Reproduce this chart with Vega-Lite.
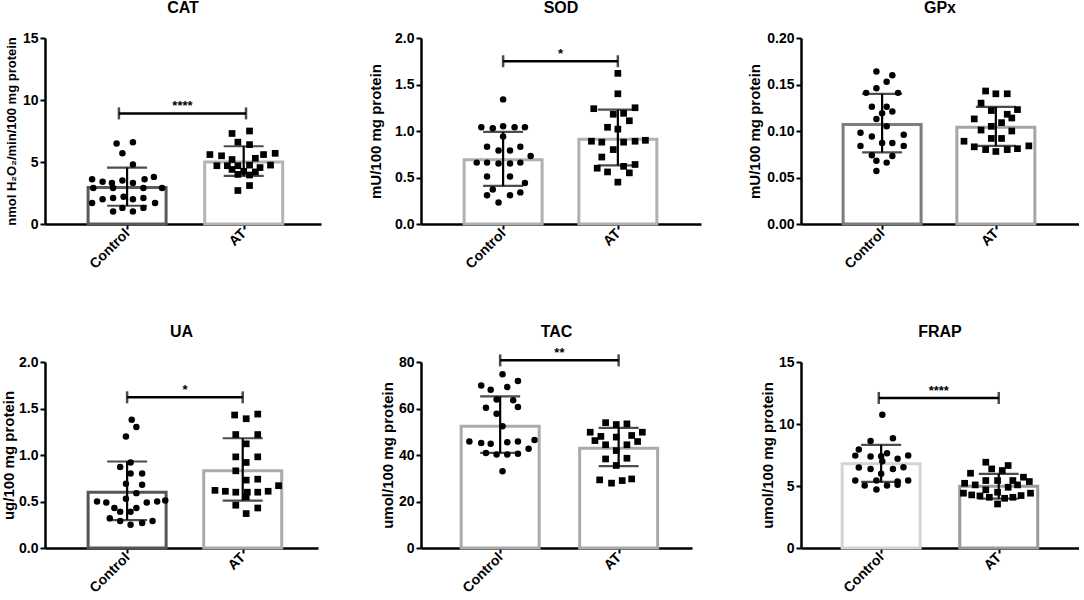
{
"$schema":"https://vega.github.io/schema/vega-lite/v6.json",
"padding":{"left":1,"top":0,"right":0,"bottom":0},
"datasets":{"d":[
{"k":"bar","p":"CAT","g":"Control","x":1,"m":2.95,"lo":1.47,"hi":4.55},
{"k":"bar","p":"CAT","g":"AT","x":2,"m":5.01,"lo":3.88,"hi":6.27},
{"k":"bar","p":"SOD","g":"Control","x":1,"m":0.69,"lo":0.41,"hi":0.99},
{"k":"bar","p":"SOD","g":"AT","x":2,"m":0.91,"lo":0.63,"hi":1.23},
{"k":"bar","p":"GPx","g":"Control","x":1,"m":0.107,"lo":0.077,"hi":0.140},
{"k":"bar","p":"GPx","g":"AT","x":2,"m":0.104,"lo":0.084,"hi":0.126},
{"k":"bar","p":"UA","g":"Control","x":1,"m":0.60,"lo":0.30,"hi":0.93},
{"k":"bar","p":"UA","g":"AT","x":2,"m":0.83,"lo":0.51,"hi":1.18},
{"k":"bar","p":"TAC","g":"Control","x":1,"m":52.4,"lo":40.9,"hi":65.2},
{"k":"bar","p":"TAC","g":"AT","x":2,"m":42.9,"lo":35.2,"hi":51.7},
{"k":"bar","p":"FRAP","g":"Control","x":1,"m":6.79,"lo":5.33,"hi":8.32},
{"k":"bar","p":"FRAP","g":"AT","x":2,"m":4.98,"lo":3.98,"hi":5.98},
{"k":"sig","p":"CAT","x":0.93,"x2":2.02,"xm":1.475,"y":8.92,"s":"****"},
{"k":"sig","p":"SOD","x":1,"x2":2,"xm":1.5,"y":1.75,"s":"*"},
{"k":"sig","p":"UA","x":1,"x2":2,"xm":1.5,"y":1.62,"s":"*"},
{"k":"sig","p":"TAC","x":1,"x2":2,"xm":1.5,"y":80.7,"s":"**"},
{"k":"sig","p":"FRAP","x":0.98,"x2":2,"xm":1.49,"y":12.1,"s":"****"},
{"k":"pt","p":"CAT","g":"Control","x":0.91,"v":6.5},{"k":"pt","p":"CAT","g":"Control","x":1.05,"v":6.6},{"k":"pt","p":"CAT","g":"Control","x":0.96,"v":5.7},{"k":"pt","p":"CAT","g":"Control","x":1.05,"v":4.8},
{"k":"pt","p":"CAT","g":"Control","x":0.70,"v":3.6},{"k":"pt","p":"CAT","g":"Control","x":0.79,"v":3.4},{"k":"pt","p":"CAT","g":"Control","x":0.87,"v":3.3},{"k":"pt","p":"CAT","g":"Control","x":0.96,"v":3.5},{"k":"pt","p":"CAT","g":"Control","x":1.05,"v":3.3},{"k":"pt","p":"CAT","g":"Control","x":1.15,"v":3.6},{"k":"pt","p":"CAT","g":"Control","x":1.23,"v":3.8},
{"k":"pt","p":"CAT","g":"Control","x":0.71,"v":2.9},{"k":"pt","p":"CAT","g":"Control","x":0.88,"v":2.9},{"k":"pt","p":"CAT","g":"Control","x":1.14,"v":2.9},{"k":"pt","p":"CAT","g":"Control","x":1.30,"v":2.9},
{"k":"pt","p":"CAT","g":"Control","x":0.79,"v":2.0},{"k":"pt","p":"CAT","g":"Control","x":0.88,"v":2.1},{"k":"pt","p":"CAT","g":"Control","x":1.05,"v":2.0},{"k":"pt","p":"CAT","g":"Control","x":1.14,"v":2.1},{"k":"pt","p":"CAT","g":"Control","x":0.97,"v":2.2},
{"k":"pt","p":"CAT","g":"Control","x":0.70,"v":1.7},{"k":"pt","p":"CAT","g":"Control","x":1.24,"v":1.7},{"k":"pt","p":"CAT","g":"Control","x":0.96,"v":1.3},{"k":"pt","p":"CAT","g":"Control","x":1.14,"v":1.3},{"k":"pt","p":"CAT","g":"Control","x":0.88,"v":1.0},{"k":"pt","p":"CAT","g":"Control","x":1.05,"v":1.0},
{"k":"pt","p":"CAT","g":"AT","x":2.05,"v":7.5},{"k":"pt","p":"CAT","g":"AT","x":1.90,"v":7.3},{"k":"pt","p":"CAT","g":"AT","x":1.95,"v":6.6},{"k":"pt","p":"CAT","g":"AT","x":2.05,"v":6.4},{"k":"pt","p":"CAT","g":"AT","x":1.71,"v":5.6},{"k":"pt","p":"CAT","g":"AT","x":1.81,"v":5.5},{"k":"pt","p":"CAT","g":"AT","x":2.17,"v":5.6},{"k":"pt","p":"CAT","g":"AT","x":2.27,"v":5.7},{"k":"pt","p":"CAT","g":"AT","x":1.90,"v":5.2},{"k":"pt","p":"CAT","g":"AT","x":2.10,"v":5.3},{"k":"pt","p":"CAT","g":"AT","x":1.77,"v":4.7},{"k":"pt","p":"CAT","g":"AT","x":1.86,"v":4.7},{"k":"pt","p":"CAT","g":"AT","x":1.95,"v":4.7},{"k":"pt","p":"CAT","g":"AT","x":2.05,"v":4.75},{"k":"pt","p":"CAT","g":"AT","x":2.14,"v":4.55},{"k":"pt","p":"CAT","g":"AT","x":2.23,"v":4.75},{"k":"pt","p":"CAT","g":"AT","x":1.90,"v":4.4},{"k":"pt","p":"CAT","g":"AT","x":2.00,"v":4.25},{"k":"pt","p":"CAT","g":"AT","x":2.10,"v":4.2},{"k":"pt","p":"CAT","g":"AT","x":1.95,"v":4.0},{"k":"pt","p":"CAT","g":"AT","x":2.05,"v":3.95},{"k":"pt","p":"CAT","g":"AT","x":2.05,"v":3.1},{"k":"pt","p":"CAT","g":"AT","x":1.95,"v":2.7},
{"k":"pt","p":"SOD","g":"Control","x":1.00,"v":1.34},{"k":"pt","p":"SOD","g":"Control","x":0.81,"v":1.04},{"k":"pt","p":"SOD","g":"Control","x":0.91,"v":1.03},{"k":"pt","p":"SOD","g":"Control","x":1.00,"v":1.05},{"k":"pt","p":"SOD","g":"Control","x":1.10,"v":1.04},{"k":"pt","p":"SOD","g":"Control","x":1.19,"v":1.04},{"k":"pt","p":"SOD","g":"Control","x":1.00,"v":0.94},{"k":"pt","p":"SOD","g":"Control","x":0.86,"v":0.83},{"k":"pt","p":"SOD","g":"Control","x":0.96,"v":0.79},{"k":"pt","p":"SOD","g":"Control","x":1.06,"v":0.79},{"k":"pt","p":"SOD","g":"Control","x":1.15,"v":0.83},{"k":"pt","p":"SOD","g":"Control","x":1.24,"v":0.73},{"k":"pt","p":"SOD","g":"Control","x":0.77,"v":0.66},{"k":"pt","p":"SOD","g":"Control","x":0.86,"v":0.66},{"k":"pt","p":"SOD","g":"Control","x":0.96,"v":0.65},{"k":"pt","p":"SOD","g":"Control","x":1.06,"v":0.65},{"k":"pt","p":"SOD","g":"Control","x":1.15,"v":0.66},{"k":"pt","p":"SOD","g":"Control","x":0.86,"v":0.51},{"k":"pt","p":"SOD","g":"Control","x":1.06,"v":0.51},{"k":"pt","p":"SOD","g":"Control","x":1.19,"v":0.44},{"k":"pt","p":"SOD","g":"Control","x":0.91,"v":0.37},{"k":"pt","p":"SOD","g":"Control","x":1.15,"v":0.34},{"k":"pt","p":"SOD","g":"Control","x":0.86,"v":0.31},{"k":"pt","p":"SOD","g":"Control","x":1.06,"v":0.31},{"k":"pt","p":"SOD","g":"Control","x":0.96,"v":0.23},
{"k":"pt","p":"SOD","g":"AT","x":2.00,"v":1.62},{"k":"pt","p":"SOD","g":"AT","x":2.00,"v":1.40},{"k":"pt","p":"SOD","g":"AT","x":1.79,"v":1.24},{"k":"pt","p":"SOD","g":"AT","x":2.15,"v":1.25},{"k":"pt","p":"SOD","g":"AT","x":1.96,"v":1.18},{"k":"pt","p":"SOD","g":"AT","x":2.05,"v":1.19},{"k":"pt","p":"SOD","g":"AT","x":2.10,"v":1.11},{"k":"pt","p":"SOD","g":"AT","x":1.91,"v":1.04},{"k":"pt","p":"SOD","g":"AT","x":2.00,"v":1.02},{"k":"pt","p":"SOD","g":"AT","x":1.77,"v":0.89},{"k":"pt","p":"SOD","g":"AT","x":1.86,"v":0.88},{"k":"pt","p":"SOD","g":"AT","x":2.05,"v":0.88},{"k":"pt","p":"SOD","g":"AT","x":2.15,"v":0.89},{"k":"pt","p":"SOD","g":"AT","x":2.24,"v":0.90},{"k":"pt","p":"SOD","g":"AT","x":1.96,"v":0.80},{"k":"pt","p":"SOD","g":"AT","x":1.86,"v":0.72},{"k":"pt","p":"SOD","g":"AT","x":2.15,"v":0.64},{"k":"pt","p":"SOD","g":"AT","x":1.91,"v":0.56},{"k":"pt","p":"SOD","g":"AT","x":2.10,"v":0.55},{"k":"pt","p":"SOD","g":"AT","x":2.00,"v":0.45},{"k":"pt","p":"SOD","g":"AT","x":1.82,"v":0.60},{"k":"pt","p":"SOD","g":"AT","x":2.05,"v":0.62},
{"k":"pt","p":"GPx","g":"Control","x":0.95,"v":0.164},{"k":"pt","p":"GPx","g":"Control","x":1.09,"v":0.160},{"k":"pt","p":"GPx","g":"Control","x":1.04,"v":0.153},{"k":"pt","p":"GPx","g":"Control","x":0.95,"v":0.146},{"k":"pt","p":"GPx","g":"Control","x":0.86,"v":0.141},{"k":"pt","p":"GPx","g":"Control","x":1.14,"v":0.141},{"k":"pt","p":"GPx","g":"Control","x":0.91,"v":0.126},{"k":"pt","p":"GPx","g":"Control","x":1.04,"v":0.126},{"k":"pt","p":"GPx","g":"Control","x":1.00,"v":0.119},{"k":"pt","p":"GPx","g":"Control","x":1.09,"v":0.121},{"k":"pt","p":"GPx","g":"Control","x":0.95,"v":0.113},{"k":"pt","p":"GPx","g":"Control","x":1.04,"v":0.105},{"k":"pt","p":"GPx","g":"Control","x":0.81,"v":0.098},{"k":"pt","p":"GPx","g":"Control","x":0.91,"v":0.094},{"k":"pt","p":"GPx","g":"Control","x":1.19,"v":0.096},{"k":"pt","p":"GPx","g":"Control","x":1.00,"v":0.087},{"k":"pt","p":"GPx","g":"Control","x":1.09,"v":0.087},{"k":"pt","p":"GPx","g":"Control","x":0.81,"v":0.084},{"k":"pt","p":"GPx","g":"Control","x":1.19,"v":0.084},{"k":"pt","p":"GPx","g":"Control","x":0.91,"v":0.074},{"k":"pt","p":"GPx","g":"Control","x":1.09,"v":0.073},{"k":"pt","p":"GPx","g":"Control","x":0.95,"v":0.068},{"k":"pt","p":"GPx","g":"Control","x":1.04,"v":0.066},{"k":"pt","p":"GPx","g":"Control","x":0.95,"v":0.057},
{"k":"pt","p":"GPx","g":"AT","x":1.91,"v":0.143},{"k":"pt","p":"GPx","g":"AT","x":2.00,"v":0.140},{"k":"pt","p":"GPx","g":"AT","x":2.10,"v":0.140},{"k":"pt","p":"GPx","g":"AT","x":1.87,"v":0.130},{"k":"pt","p":"GPx","g":"AT","x":1.96,"v":0.122},{"k":"pt","p":"GPx","g":"AT","x":2.19,"v":0.123},{"k":"pt","p":"GPx","g":"AT","x":2.10,"v":0.118},{"k":"pt","p":"GPx","g":"AT","x":2.14,"v":0.114},{"k":"pt","p":"GPx","g":"AT","x":1.81,"v":0.113},{"k":"pt","p":"GPx","g":"AT","x":2.05,"v":0.109},{"k":"pt","p":"GPx","g":"AT","x":1.96,"v":0.105},{"k":"pt","p":"GPx","g":"AT","x":1.87,"v":0.101},{"k":"pt","p":"GPx","g":"AT","x":2.14,"v":0.100},{"k":"pt","p":"GPx","g":"AT","x":1.96,"v":0.092},{"k":"pt","p":"GPx","g":"AT","x":2.05,"v":0.092},{"k":"pt","p":"GPx","g":"AT","x":1.72,"v":0.089},{"k":"pt","p":"GPx","g":"AT","x":1.81,"v":0.083},{"k":"pt","p":"GPx","g":"AT","x":2.29,"v":0.084},{"k":"pt","p":"GPx","g":"AT","x":1.91,"v":0.080},{"k":"pt","p":"GPx","g":"AT","x":2.00,"v":0.078},{"k":"pt","p":"GPx","g":"AT","x":2.10,"v":0.080},{"k":"pt","p":"GPx","g":"AT","x":2.19,"v":0.081},
{"k":"pt","p":"UA","g":"Control","x":1.04,"v":1.38},{"k":"pt","p":"UA","g":"Control","x":1.08,"v":1.30},{"k":"pt","p":"UA","g":"Control","x":0.99,"v":1.20},{"k":"pt","p":"UA","g":"Control","x":1.03,"v":0.92},{"k":"pt","p":"UA","g":"Control","x":0.94,"v":0.87},{"k":"pt","p":"UA","g":"Control","x":1.03,"v":0.80},{"k":"pt","p":"UA","g":"Control","x":1.13,"v":0.80},{"k":"pt","p":"UA","g":"Control","x":0.99,"v":0.69},{"k":"pt","p":"UA","g":"Control","x":1.13,"v":0.68},{"k":"pt","p":"UA","g":"Control","x":1.08,"v":0.59},{"k":"pt","p":"UA","g":"Control","x":0.99,"v":0.53},{"k":"pt","p":"UA","g":"Control","x":0.74,"v":0.50},{"k":"pt","p":"UA","g":"Control","x":0.82,"v":0.49},{"k":"pt","p":"UA","g":"Control","x":1.17,"v":0.49},{"k":"pt","p":"UA","g":"Control","x":1.26,"v":0.50},{"k":"pt","p":"UA","g":"Control","x":1.33,"v":0.51},{"k":"pt","p":"UA","g":"Control","x":0.89,"v":0.43},{"k":"pt","p":"UA","g":"Control","x":1.08,"v":0.43},{"k":"pt","p":"UA","g":"Control","x":0.94,"v":0.39},{"k":"pt","p":"UA","g":"Control","x":1.03,"v":0.39},{"k":"pt","p":"UA","g":"Control","x":0.85,"v":0.32},{"k":"pt","p":"UA","g":"Control","x":1.22,"v":0.29},{"k":"pt","p":"UA","g":"Control","x":0.94,"v":0.29},{"k":"pt","p":"UA","g":"Control","x":1.03,"v":0.25},{"k":"pt","p":"UA","g":"Control","x":1.13,"v":0.27},
{"k":"pt","p":"UA","g":"AT","x":1.93,"v":1.43},{"k":"pt","p":"UA","g":"AT","x":2.03,"v":1.39},{"k":"pt","p":"UA","g":"AT","x":2.13,"v":1.44},{"k":"pt","p":"UA","g":"AT","x":1.94,"v":1.22},{"k":"pt","p":"UA","g":"AT","x":2.13,"v":1.22},{"k":"pt","p":"UA","g":"AT","x":2.03,"v":1.12},{"k":"pt","p":"UA","g":"AT","x":1.94,"v":0.98},{"k":"pt","p":"UA","g":"AT","x":2.13,"v":0.98},{"k":"pt","p":"UA","g":"AT","x":2.03,"v":0.92},{"k":"pt","p":"UA","g":"AT","x":1.94,"v":0.83},{"k":"pt","p":"UA","g":"AT","x":2.03,"v":0.73},{"k":"pt","p":"UA","g":"AT","x":2.13,"v":0.74},{"k":"pt","p":"UA","g":"AT","x":1.76,"v":0.62},{"k":"pt","p":"UA","g":"AT","x":1.85,"v":0.61},{"k":"pt","p":"UA","g":"AT","x":1.94,"v":0.60},{"k":"pt","p":"UA","g":"AT","x":2.04,"v":0.60},{"k":"pt","p":"UA","g":"AT","x":2.13,"v":0.60},{"k":"pt","p":"UA","g":"AT","x":2.22,"v":0.61},{"k":"pt","p":"UA","g":"AT","x":2.31,"v":0.67},{"k":"pt","p":"UA","g":"AT","x":2.03,"v":0.55},{"k":"pt","p":"UA","g":"AT","x":1.94,"v":0.46},{"k":"pt","p":"UA","g":"AT","x":2.13,"v":0.43},{"k":"pt","p":"UA","g":"AT","x":2.03,"v":0.37},
{"k":"pt","p":"TAC","g":"Control","x":1.02,"v":74.7},{"k":"pt","p":"TAC","g":"Control","x":1.15,"v":71.8},{"k":"pt","p":"TAC","g":"Control","x":0.84,"v":69.9},{"k":"pt","p":"TAC","g":"Control","x":1.06,"v":69.2},{"k":"pt","p":"TAC","g":"Control","x":0.92,"v":68.1},{"k":"pt","p":"TAC","g":"Control","x":0.97,"v":63.9},{"k":"pt","p":"TAC","g":"Control","x":1.11,"v":63.5},{"k":"pt","p":"TAC","g":"Control","x":0.88,"v":60.3},{"k":"pt","p":"TAC","g":"Control","x":1.15,"v":60.6},{"k":"pt","p":"TAC","g":"Control","x":0.97,"v":57.7},{"k":"pt","p":"TAC","g":"Control","x":1.02,"v":52.4},{"k":"pt","p":"TAC","g":"Control","x":0.74,"v":45.8},{"k":"pt","p":"TAC","g":"Control","x":0.84,"v":45.2},{"k":"pt","p":"TAC","g":"Control","x":0.92,"v":44.8},{"k":"pt","p":"TAC","g":"Control","x":1.06,"v":45.5},{"k":"pt","p":"TAC","g":"Control","x":1.15,"v":45.8},{"k":"pt","p":"TAC","g":"Control","x":1.29,"v":46.5},{"k":"pt","p":"TAC","g":"Control","x":1.24,"v":42.7},{"k":"pt","p":"TAC","g":"Control","x":0.88,"v":40.9},{"k":"pt","p":"TAC","g":"Control","x":0.97,"v":40.2},{"k":"pt","p":"TAC","g":"Control","x":1.06,"v":40.2},{"k":"pt","p":"TAC","g":"Control","x":1.15,"v":40.5},{"k":"pt","p":"TAC","g":"Control","x":1.02,"v":33.0},
{"k":"pt","p":"TAC","g":"AT","x":1.89,"v":53.9},{"k":"pt","p":"TAC","g":"AT","x":1.98,"v":53.1},{"k":"pt","p":"TAC","g":"AT","x":2.07,"v":53.4},{"k":"pt","p":"TAC","g":"AT","x":1.76,"v":49.8},{"k":"pt","p":"TAC","g":"AT","x":1.85,"v":48.0},{"k":"pt","p":"TAC","g":"AT","x":1.98,"v":47.7},{"k":"pt","p":"TAC","g":"AT","x":2.11,"v":48.4},{"k":"pt","p":"TAC","g":"AT","x":2.20,"v":49.8},{"k":"pt","p":"TAC","g":"AT","x":1.80,"v":46.2},{"k":"pt","p":"TAC","g":"AT","x":1.89,"v":44.4},{"k":"pt","p":"TAC","g":"AT","x":2.07,"v":44.4},{"k":"pt","p":"TAC","g":"AT","x":2.16,"v":45.8},{"k":"pt","p":"TAC","g":"AT","x":1.98,"v":41.9},{"k":"pt","p":"TAC","g":"AT","x":1.89,"v":38.3},{"k":"pt","p":"TAC","g":"AT","x":2.07,"v":38.6},{"k":"pt","p":"TAC","g":"AT","x":1.98,"v":35.5},{"k":"pt","p":"TAC","g":"AT","x":1.84,"v":29.3},{"k":"pt","p":"TAC","g":"AT","x":1.94,"v":27.9},{"k":"pt","p":"TAC","g":"AT","x":2.03,"v":29.0},{"k":"pt","p":"TAC","g":"AT","x":2.11,"v":29.7},
{"k":"pt","p":"FRAP","g":"Control","x":1.01,"v":10.75},{"k":"pt","p":"FRAP","g":"Control","x":0.91,"v":8.62},{"k":"pt","p":"FRAP","g":"Control","x":1.10,"v":8.86},{"k":"pt","p":"FRAP","g":"Control","x":0.81,"v":7.95},{"k":"pt","p":"FRAP","g":"Control","x":1.05,"v":7.65},{"k":"pt","p":"FRAP","g":"Control","x":0.91,"v":7.38},{"k":"pt","p":"FRAP","g":"Control","x":1.00,"v":7.40},{"k":"pt","p":"FRAP","g":"Control","x":1.14,"v":7.19},{"k":"pt","p":"FRAP","g":"Control","x":1.23,"v":7.46},{"k":"pt","p":"FRAP","g":"Control","x":0.78,"v":7.45},{"k":"pt","p":"FRAP","g":"Control","x":1.01,"v":7.0},{"k":"pt","p":"FRAP","g":"Control","x":0.91,"v":6.38},{"k":"pt","p":"FRAP","g":"Control","x":1.10,"v":6.38},{"k":"pt","p":"FRAP","g":"Control","x":0.81,"v":6.50},{"k":"pt","p":"FRAP","g":"Control","x":1.19,"v":6.52},{"k":"pt","p":"FRAP","g":"Control","x":1.00,"v":5.98},{"k":"pt","p":"FRAP","g":"Control","x":0.78,"v":5.44},{"k":"pt","p":"FRAP","g":"Control","x":0.96,"v":5.44},{"k":"pt","p":"FRAP","g":"Control","x":1.14,"v":5.36},{"k":"pt","p":"FRAP","g":"Control","x":1.23,"v":5.44},{"k":"pt","p":"FRAP","g":"Control","x":0.86,"v":5.04},{"k":"pt","p":"FRAP","g":"Control","x":1.05,"v":5.04},{"k":"pt","p":"FRAP","g":"Control","x":0.96,"v":4.71},{"k":"pt","p":"FRAP","g":"Control","x":1.14,"v":5.1},
{"k":"pt","p":"FRAP","g":"AT","x":1.89,"v":6.92},{"k":"pt","p":"FRAP","g":"AT","x":2.08,"v":6.65},{"k":"pt","p":"FRAP","g":"AT","x":1.94,"v":6.38},{"k":"pt","p":"FRAP","g":"AT","x":2.03,"v":6.25},{"k":"pt","p":"FRAP","g":"AT","x":1.76,"v":6.03},{"k":"pt","p":"FRAP","g":"AT","x":1.71,"v":5.22},{"k":"pt","p":"FRAP","g":"AT","x":1.80,"v":5.09},{"k":"pt","p":"FRAP","g":"AT","x":1.89,"v":5.44},{"k":"pt","p":"FRAP","g":"AT","x":1.99,"v":5.44},{"k":"pt","p":"FRAP","g":"AT","x":2.12,"v":5.44},{"k":"pt","p":"FRAP","g":"AT","x":2.21,"v":5.71},{"k":"pt","p":"FRAP","g":"AT","x":2.26,"v":5.36},{"k":"pt","p":"FRAP","g":"AT","x":2.08,"v":4.9},{"k":"pt","p":"FRAP","g":"AT","x":2.16,"v":5.09},{"k":"pt","p":"FRAP","g":"AT","x":1.89,"v":4.69},{"k":"pt","p":"FRAP","g":"AT","x":1.99,"v":4.5},{"k":"pt","p":"FRAP","g":"AT","x":1.70,"v":4.42},{"k":"pt","p":"FRAP","g":"AT","x":1.77,"v":4.28},{"k":"pt","p":"FRAP","g":"AT","x":1.84,"v":4.2},{"k":"pt","p":"FRAP","g":"AT","x":1.92,"v":4.09},{"k":"pt","p":"FRAP","g":"AT","x":2.05,"v":4.01},{"k":"pt","p":"FRAP","g":"AT","x":2.12,"v":4.09},{"k":"pt","p":"FRAP","g":"AT","x":2.19,"v":4.23},{"k":"pt","p":"FRAP","g":"AT","x":2.27,"v":4.42},{"k":"pt","p":"FRAP","g":"AT","x":1.99,"v":3.55}
]},
"columns":3,
"align":"none",
"bounds":"flush",
"spacing":{"row":138,"column":100},
"concat":[
{"width":276,"height":186,"title":"CAT","data":{"name":"d"},"transform":[{"filter":"datum.p==='CAT'"}],"layer":[
{"transform":[{"filter":"datum.k==='bar'"}],"mark":{"type":"bar","orient":"vertical","size":78,"fill":"#ffffff","strokeWidth":3},"encoding":{"x":{"field":"x","type":"quantitative","scale":{"domain":[0.339,2.62],"nice":false,"zero":false},"axis":{"values":[1,2],"labelExpr":"datum.value==1?'Control':'AT'","title":null}},"y":{"field":"m","type":"quantitative","scale":{"domain":[0,15],"nice":false},"axis":{"values":[0,5,10,15],"format":"d","title":"nmol H₂O₂/min/100 mg protein","titleFontSize":13,"titleX":-34}},"stroke":{"condition":{"test":"datum.g==='Control'","value":"#5a5a5a"},"value":"#b4b4b4"}}},
{"transform":[{"filter":"datum.k==='pt'"}],"mark":{"type":"point","filled":true,"color":"#000000","opacity":1},"encoding":{"x":{"field":"x","type":"quantitative"},"y":{"field":"v","type":"quantitative"},"shape":{"condition":{"test":"datum.g==='Control'","value":"circle"},"value":"square"},"size":{"condition":{"test":"datum.g==='Control'","value":42},"value":45}}},
{"transform":[{"filter":"datum.k==='bar'"}],"mark":{"type":"rule","color":"#000000","strokeWidth":2.2},"encoding":{"x":{"field":"x","type":"quantitative"},"y":{"field":"lo","type":"quantitative"},"y2":{"field":"hi"}}},
{"transform":[{"filter":"datum.k==='bar'"}],"mark":{"type":"tick","orient":"horizontal","size":40,"thickness":2.2,"color":"#000000"},"encoding":{"x":{"field":"x","type":"quantitative"},"y":{"field":"lo","type":"quantitative"}}},
{"transform":[{"filter":"datum.k==='bar'"}],"mark":{"type":"tick","orient":"horizontal","size":40,"thickness":2.2,"color":"#000000"},"encoding":{"x":{"field":"x","type":"quantitative"},"y":{"field":"hi","type":"quantitative"}}},
{"transform":[{"filter":"datum.k==='sig'"}],"mark":{"type":"rule","color":"#000000","strokeWidth":2.5},"encoding":{"x":{"field":"x","type":"quantitative"},"x2":{"field":"x2"},"y":{"field":"y","type":"quantitative"}}},
{"transform":[{"filter":"datum.k==='sig'"}],"mark":{"type":"tick","orient":"vertical","size":12,"thickness":2.5,"color":"#000000"},"encoding":{"x":{"field":"x","type":"quantitative"},"y":{"field":"y","type":"quantitative"}}},
{"transform":[{"filter":"datum.k==='sig'"}],"mark":{"type":"tick","orient":"vertical","size":12,"thickness":2.5,"color":"#000000"},"encoding":{"x":{"field":"x2","type":"quantitative"},"y":{"field":"y","type":"quantitative"}}},
{"transform":[{"filter":"datum.k==='sig'"}],"mark":{"type":"text","font":"Liberation Sans","fontSize":13,"fontWeight":"bold","baseline":"alphabetic","dy":-3,"color":"#000000"},"encoding":{"x":{"field":"xm","type":"quantitative"},"y":{"field":"y","type":"quantitative"},"text":{"field":"s"}}}
]},
{"width":280,"height":186,"title":"SOD","data":{"name":"d"},"transform":[{"filter":"datum.p==='SOD'"}],"layer":[
{"transform":[{"filter":"datum.k==='bar'"}],"mark":{"type":"bar","orient":"vertical","size":78,"fill":"#ffffff","strokeWidth":3},"encoding":{"x":{"field":"x","type":"quantitative","scale":{"domain":[0.328,2.681],"nice":false,"zero":false},"axis":{"values":[1,2],"labelExpr":"datum.value==1?'Control':'AT'","title":null}},"y":{"field":"m","type":"quantitative","scale":{"domain":[0,2],"nice":false},"axis":{"values":[0,0.5,1,1.5,2],"format":".1f","title":"mU/100 mg protein","titleX":-46}},"stroke":{"condition":{"test":"datum.g==='Control'","value":"#b0b0b0"},"value":"#b0b0b0"}}},
{"transform":[{"filter":"datum.k==='pt'"}],"mark":{"type":"point","filled":true,"color":"#000000","opacity":1},"encoding":{"x":{"field":"x","type":"quantitative"},"y":{"field":"v","type":"quantitative"},"shape":{"condition":{"test":"datum.g==='Control'","value":"circle"},"value":"square"},"size":{"condition":{"test":"datum.g==='Control'","value":42},"value":45}}},
{"transform":[{"filter":"datum.k==='bar'"}],"mark":{"type":"rule","color":"#000000","strokeWidth":2.2},"encoding":{"x":{"field":"x","type":"quantitative"},"y":{"field":"lo","type":"quantitative"},"y2":{"field":"hi"}}},
{"transform":[{"filter":"datum.k==='bar'"}],"mark":{"type":"tick","orient":"horizontal","size":40,"thickness":2.2,"color":"#000000"},"encoding":{"x":{"field":"x","type":"quantitative"},"y":{"field":"lo","type":"quantitative"}}},
{"transform":[{"filter":"datum.k==='bar'"}],"mark":{"type":"tick","orient":"horizontal","size":40,"thickness":2.2,"color":"#000000"},"encoding":{"x":{"field":"x","type":"quantitative"},"y":{"field":"hi","type":"quantitative"}}},
{"transform":[{"filter":"datum.k==='sig'"}],"mark":{"type":"rule","color":"#000000","strokeWidth":2.5},"encoding":{"x":{"field":"x","type":"quantitative"},"x2":{"field":"x2"},"y":{"field":"y","type":"quantitative"}}},
{"transform":[{"filter":"datum.k==='sig'"}],"mark":{"type":"tick","orient":"vertical","size":12,"thickness":2.5,"color":"#000000"},"encoding":{"x":{"field":"x","type":"quantitative"},"y":{"field":"y","type":"quantitative"}}},
{"transform":[{"filter":"datum.k==='sig'"}],"mark":{"type":"tick","orient":"vertical","size":12,"thickness":2.5,"color":"#000000"},"encoding":{"x":{"field":"x2","type":"quantitative"},"y":{"field":"y","type":"quantitative"}}},
{"transform":[{"filter":"datum.k==='sig'"}],"mark":{"type":"text","font":"Liberation Sans","fontSize":13,"fontWeight":"bold","baseline":"alphabetic","dy":-3,"color":"#000000"},"encoding":{"x":{"field":"xm","type":"quantitative"},"y":{"field":"y","type":"quantitative"},"text":{"field":"s"}}}
]},
{"width":278,"height":186,"title":"GPx","data":{"name":"d"},"transform":[{"filter":"datum.p==='GPx'"}],"layer":[
{"transform":[{"filter":"datum.k==='bar'"}],"mark":{"type":"bar","orient":"vertical","size":78,"fill":"#ffffff","strokeWidth":3},"encoding":{"x":{"field":"x","type":"quantitative","scale":{"domain":[0.331,2.687],"nice":false,"zero":false},"axis":{"values":[1,2],"labelExpr":"datum.value==1?'Control':'AT'","title":null}},"y":{"field":"m","type":"quantitative","scale":{"domain":[0,0.2],"nice":false},"axis":{"values":[0,0.05,0.1,0.15,0.2],"format":".2f","title":"mU/100 mg protein","titleX":-47}},"stroke":{"condition":{"test":"datum.g==='Control'","value":"#7d7d7d"},"value":"#a5a5a5"}}},
{"transform":[{"filter":"datum.k==='pt'"}],"mark":{"type":"point","filled":true,"color":"#000000","opacity":1},"encoding":{"x":{"field":"x","type":"quantitative"},"y":{"field":"v","type":"quantitative"},"shape":{"condition":{"test":"datum.g==='Control'","value":"circle"},"value":"square"},"size":{"condition":{"test":"datum.g==='Control'","value":42},"value":45}}},
{"transform":[{"filter":"datum.k==='bar'"}],"mark":{"type":"rule","color":"#000000","strokeWidth":2.2},"encoding":{"x":{"field":"x","type":"quantitative"},"y":{"field":"lo","type":"quantitative"},"y2":{"field":"hi"}}},
{"transform":[{"filter":"datum.k==='bar'"}],"mark":{"type":"tick","orient":"horizontal","size":40,"thickness":2.2,"color":"#000000"},"encoding":{"x":{"field":"x","type":"quantitative"},"y":{"field":"lo","type":"quantitative"}}},
{"transform":[{"filter":"datum.k==='bar'"}],"mark":{"type":"tick","orient":"horizontal","size":40,"thickness":2.2,"color":"#000000"},"encoding":{"x":{"field":"x","type":"quantitative"},"y":{"field":"hi","type":"quantitative"}}}
]},
{"width":273,"height":186,"title":"UA","data":{"name":"d"},"transform":[{"filter":"datum.p==='UA'"}],"layer":[
{"transform":[{"filter":"datum.k==='bar'"}],"mark":{"type":"bar","orient":"vertical","size":78,"fill":"#ffffff","strokeWidth":3},"encoding":{"x":{"field":"x","type":"quantitative","scale":{"domain":[0.333,2.608],"nice":false,"zero":false},"axis":{"values":[1,2],"labelExpr":"datum.value==1?'Control':'AT'","title":null}},"y":{"field":"m","type":"quantitative","scale":{"domain":[0,2],"nice":false},"axis":{"values":[0,0.5,1,1.5,2],"format":".1f","title":"ug/100 mg protein","titleX":-37}},"stroke":{"condition":{"test":"datum.g==='Control'","value":"#555555"},"value":"#aaaaaa"}}},
{"transform":[{"filter":"datum.k==='pt'"}],"mark":{"type":"point","filled":true,"color":"#000000","opacity":1},"encoding":{"x":{"field":"x","type":"quantitative"},"y":{"field":"v","type":"quantitative"},"shape":{"condition":{"test":"datum.g==='Control'","value":"circle"},"value":"square"},"size":{"condition":{"test":"datum.g==='Control'","value":42},"value":45}}},
{"transform":[{"filter":"datum.k==='bar'"}],"mark":{"type":"rule","color":"#000000","strokeWidth":2.2},"encoding":{"x":{"field":"x","type":"quantitative"},"y":{"field":"lo","type":"quantitative"},"y2":{"field":"hi"}}},
{"transform":[{"filter":"datum.k==='bar'"}],"mark":{"type":"tick","orient":"horizontal","size":40,"thickness":2.2,"color":"#000000"},"encoding":{"x":{"field":"x","type":"quantitative"},"y":{"field":"lo","type":"quantitative"}}},
{"transform":[{"filter":"datum.k==='bar'"}],"mark":{"type":"tick","orient":"horizontal","size":40,"thickness":2.2,"color":"#000000"},"encoding":{"x":{"field":"x","type":"quantitative"},"y":{"field":"hi","type":"quantitative"}}},
{"transform":[{"filter":"datum.k==='sig'"}],"mark":{"type":"rule","color":"#000000","strokeWidth":2.5},"encoding":{"x":{"field":"x","type":"quantitative"},"x2":{"field":"x2"},"y":{"field":"y","type":"quantitative"}}},
{"transform":[{"filter":"datum.k==='sig'"}],"mark":{"type":"tick","orient":"vertical","size":12,"thickness":2.5,"color":"#000000"},"encoding":{"x":{"field":"x","type":"quantitative"},"y":{"field":"y","type":"quantitative"}}},
{"transform":[{"filter":"datum.k==='sig'"}],"mark":{"type":"tick","orient":"vertical","size":12,"thickness":2.5,"color":"#000000"},"encoding":{"x":{"field":"x2","type":"quantitative"},"y":{"field":"y","type":"quantitative"}}},
{"transform":[{"filter":"datum.k==='sig'"}],"mark":{"type":"text","font":"Liberation Sans","fontSize":13,"fontWeight":"bold","baseline":"alphabetic","dy":-3,"color":"#000000"},"encoding":{"x":{"field":"xm","type":"quantitative"},"y":{"field":"y","type":"quantitative"},"text":{"field":"s"}}}
]},
{"width":271,"height":186,"title":{"text":"TAC","offset":7},"data":{"name":"d"},"transform":[{"filter":"datum.p==='TAC'"}],"layer":[
{"transform":[{"filter":"datum.k==='bar'"}],"mark":{"type":"bar","orient":"vertical","size":78,"fill":"#ffffff","strokeWidth":3},"encoding":{"x":{"field":"x","type":"quantitative","scale":{"domain":[0.374,2.577],"nice":false,"zero":false},"axis":{"values":[1,2],"labelExpr":"datum.value==1?'Control':'AT'","title":null}},"y":{"field":"m","type":"quantitative","scale":{"domain":[0,80],"nice":false},"axis":{"values":[0,20,40,60,80],"format":"d","title":"umol/100 mg protein","titleX":-34}},"stroke":{"condition":{"test":"datum.g==='Control'","value":"#aaaaaa"},"value":"#aaaaaa"}}},
{"transform":[{"filter":"datum.k==='pt'"}],"mark":{"type":"point","filled":true,"color":"#000000","opacity":1},"encoding":{"x":{"field":"x","type":"quantitative"},"y":{"field":"v","type":"quantitative"},"shape":{"condition":{"test":"datum.g==='Control'","value":"circle"},"value":"square"},"size":{"condition":{"test":"datum.g==='Control'","value":42},"value":45}}},
{"transform":[{"filter":"datum.k==='bar'"}],"mark":{"type":"rule","color":"#000000","strokeWidth":2.2},"encoding":{"x":{"field":"x","type":"quantitative"},"y":{"field":"lo","type":"quantitative"},"y2":{"field":"hi"}}},
{"transform":[{"filter":"datum.k==='bar'"}],"mark":{"type":"tick","orient":"horizontal","size":40,"thickness":2.2,"color":"#000000"},"encoding":{"x":{"field":"x","type":"quantitative"},"y":{"field":"lo","type":"quantitative"}}},
{"transform":[{"filter":"datum.k==='bar'"}],"mark":{"type":"tick","orient":"horizontal","size":40,"thickness":2.2,"color":"#000000"},"encoding":{"x":{"field":"x","type":"quantitative"},"y":{"field":"hi","type":"quantitative"}}},
{"transform":[{"filter":"datum.k==='sig'"}],"mark":{"type":"rule","color":"#000000","strokeWidth":2.5},"encoding":{"x":{"field":"x","type":"quantitative"},"x2":{"field":"x2"},"y":{"field":"y","type":"quantitative"}}},
{"transform":[{"filter":"datum.k==='sig'"}],"mark":{"type":"tick","orient":"vertical","size":12,"thickness":2.5,"color":"#000000"},"encoding":{"x":{"field":"x","type":"quantitative"},"y":{"field":"y","type":"quantitative"}}},
{"transform":[{"filter":"datum.k==='sig'"}],"mark":{"type":"tick","orient":"vertical","size":12,"thickness":2.5,"color":"#000000"},"encoding":{"x":{"field":"x2","type":"quantitative"},"y":{"field":"y","type":"quantitative"}}},
{"transform":[{"filter":"datum.k==='sig'"}],"mark":{"type":"text","font":"Liberation Sans","fontSize":13,"fontWeight":"bold","baseline":"alphabetic","dy":-3,"color":"#000000"},"encoding":{"x":{"field":"xm","type":"quantitative"},"y":{"field":"y","type":"quantitative"},"text":{"field":"s"}}}
]},
{"width":278,"height":186,"title":"FRAP","data":{"name":"d"},"transform":[{"filter":"datum.p==='FRAP'"}],"layer":[
{"transform":[{"filter":"datum.k==='bar'"}],"mark":{"type":"bar","orient":"vertical","size":78,"fill":"#ffffff","strokeWidth":3},"encoding":{"x":{"field":"x","type":"quantitative","scale":{"domain":[0.361,2.64],"nice":false,"zero":false},"axis":{"values":[1,2],"labelExpr":"datum.value==1?'Control':'AT'","title":null}},"y":{"field":"m","type":"quantitative","scale":{"domain":[0,15],"nice":false},"axis":{"values":[0,5,10,15],"format":"d","title":"umol/100 mg protein","titleX":-34}},"stroke":{"condition":{"test":"datum.g==='Control'","value":"#d4d4d4"},"value":"#9a9a9a"}}},
{"transform":[{"filter":"datum.k==='pt'"}],"mark":{"type":"point","filled":true,"color":"#000000","opacity":1},"encoding":{"x":{"field":"x","type":"quantitative"},"y":{"field":"v","type":"quantitative"},"shape":{"condition":{"test":"datum.g==='Control'","value":"circle"},"value":"square"},"size":{"condition":{"test":"datum.g==='Control'","value":42},"value":45}}},
{"transform":[{"filter":"datum.k==='bar'"}],"mark":{"type":"rule","color":"#000000","strokeWidth":2.2},"encoding":{"x":{"field":"x","type":"quantitative"},"y":{"field":"lo","type":"quantitative"},"y2":{"field":"hi"}}},
{"transform":[{"filter":"datum.k==='bar'"}],"mark":{"type":"tick","orient":"horizontal","size":40,"thickness":2.2,"color":"#000000"},"encoding":{"x":{"field":"x","type":"quantitative"},"y":{"field":"lo","type":"quantitative"}}},
{"transform":[{"filter":"datum.k==='bar'"}],"mark":{"type":"tick","orient":"horizontal","size":40,"thickness":2.2,"color":"#000000"},"encoding":{"x":{"field":"x","type":"quantitative"},"y":{"field":"hi","type":"quantitative"}}},
{"transform":[{"filter":"datum.k==='sig'"}],"mark":{"type":"rule","color":"#000000","strokeWidth":2.5},"encoding":{"x":{"field":"x","type":"quantitative"},"x2":{"field":"x2"},"y":{"field":"y","type":"quantitative"}}},
{"transform":[{"filter":"datum.k==='sig'"}],"mark":{"type":"tick","orient":"vertical","size":12,"thickness":2.5,"color":"#000000"},"encoding":{"x":{"field":"x","type":"quantitative"},"y":{"field":"y","type":"quantitative"}}},
{"transform":[{"filter":"datum.k==='sig'"}],"mark":{"type":"tick","orient":"vertical","size":12,"thickness":2.5,"color":"#000000"},"encoding":{"x":{"field":"x2","type":"quantitative"},"y":{"field":"y","type":"quantitative"}}},
{"transform":[{"filter":"datum.k==='sig'"}],"mark":{"type":"text","font":"Liberation Sans","fontSize":13,"fontWeight":"bold","baseline":"alphabetic","dy":-3,"color":"#000000"},"encoding":{"x":{"field":"xm","type":"quantitative"},"y":{"field":"y","type":"quantitative"},"text":{"field":"s"}}}
]}
],
"config":{
"view":{"stroke":null},
"font":"Liberation Sans",
"axis":{"domainColor":"#000000","domainWidth":2.5,"tickColor":"#000000","tickWidth":2,"tickSize":5,"labelFont":"Liberation Sans","labelFontSize":14,"labelFontWeight":"bold","labelColor":"#000000","labelPadding":2,"titleFont":"Liberation Sans","titleFontSize":15,"titleFontWeight":"bold","titleColor":"#000000","grid":false},
"axisX":{"labelAngle":-45,"labelFontSize":14,"labelBaseline":"middle","labelAlign":"right"},
"axisY":{"titleBaseline":"middle"},
"title":{"font":"Liberation Sans","fontSize":16,"fontWeight":"bold","color":"#000000","frame":"group","baseline":"alphabetic","offset":15,"anchor":"middle"}
}
}
